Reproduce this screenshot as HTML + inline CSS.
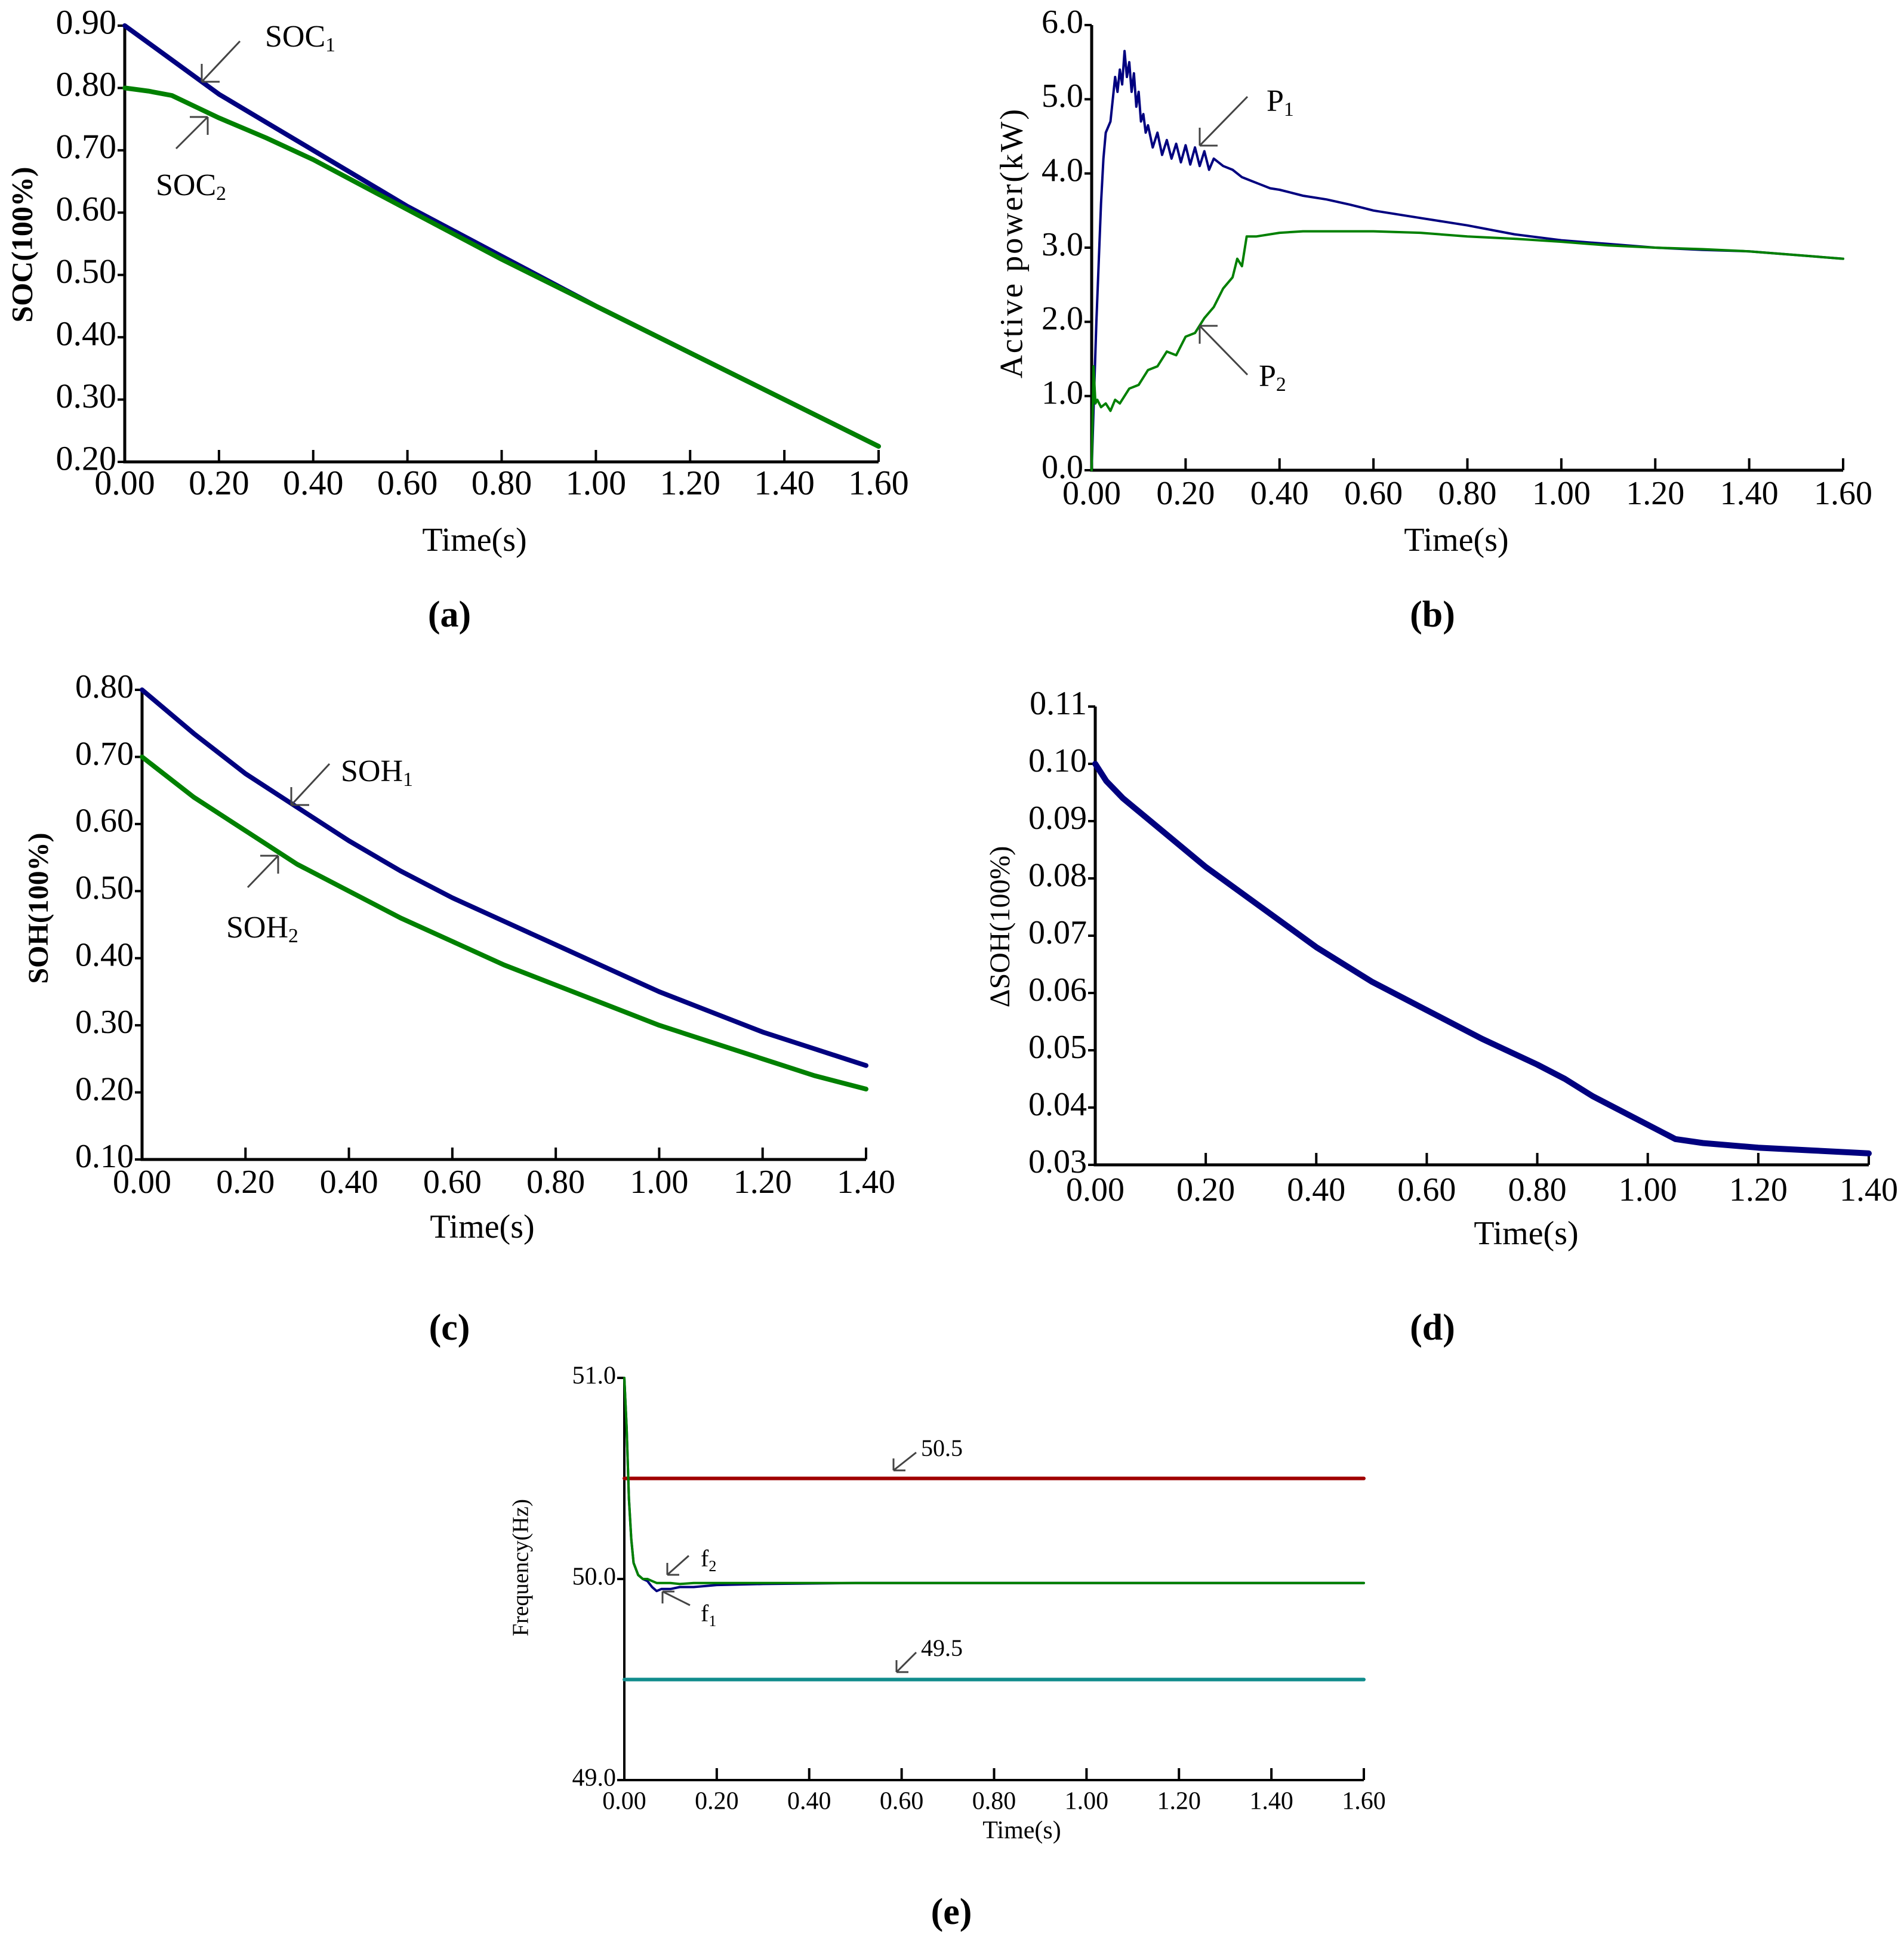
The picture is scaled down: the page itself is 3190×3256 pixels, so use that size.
<!DOCTYPE html>
<html><head><meta charset="utf-8"><style>
html,body{margin:0;padding:0;background:#fff;}
svg{display:block;}
text{font-family:"Liberation Serif",serif;fill:#000;}
</style></head><body>
<svg id="fig" width="3190" height="3256" viewBox="0 0 3190 3256" xmlns="http://www.w3.org/2000/svg"></svg>
<script>
// ---------- data ----------
const socT  = [0,0.1,0.2,0.3,0.4,0.5,0.6,0.8,1.0,1.2,1.4,1.6];
const soc1  = [0.90,0.845,0.79,0.745,0.70,0.655,0.61,0.53,0.45,0.375,0.30,0.225];
const soc2T = [0,0.05,0.1,0.15,0.2,0.3,0.4,0.5,0.6,0.8,1.0,1.2,1.4,1.6];
const soc2  = [0.80,0.795,0.788,0.77,0.752,0.72,0.685,0.645,0.605,0.525,0.45,0.375,0.30,0.225];

const p1T = [0,0.005,0.01,0.015,0.02,0.025,0.03,0.04,0.05,0.055,0.06,0.065,0.07,0.075,0.08,0.085,0.09,0.095,0.1,0.105,0.11,0.115,0.12,0.13,0.14,0.15,0.16,0.17,0.18,0.19,0.2,0.21,0.22,0.23,0.24,0.25,0.26,0.28,0.3,0.32,0.34,0.36,0.38,0.4,0.45,0.5,0.55,0.6,0.7,0.8,0.9,1.0,1.1,1.2,1.3,1.4,1.5,1.6];
const p1  = [0,1.0,2.0,2.8,3.6,4.2,4.55,4.7,5.3,5.1,5.4,5.2,5.65,5.3,5.5,5.1,5.35,4.9,5.1,4.7,4.8,4.55,4.65,4.35,4.55,4.25,4.45,4.2,4.4,4.15,4.38,4.12,4.35,4.1,4.3,4.05,4.2,4.1,4.05,3.95,3.9,3.85,3.8,3.78,3.7,3.65,3.58,3.5,3.4,3.3,3.18,3.1,3.05,3.0,2.97,2.95,2.9,2.85];
const p2T = [0,0.004,0.008,0.012,0.02,0.03,0.04,0.05,0.06,0.08,0.1,0.12,0.14,0.16,0.18,0.2,0.22,0.24,0.26,0.28,0.3,0.31,0.32,0.33,0.35,0.4,0.45,0.5,0.6,0.7,0.8,0.9,1.0,1.1,1.2,1.3,1.4,1.5,1.6];
const p2  = [0,1.4,0.9,0.95,0.85,0.9,0.8,0.95,0.9,1.1,1.15,1.35,1.4,1.6,1.55,1.8,1.85,2.05,2.2,2.45,2.6,2.85,2.75,3.15,3.15,3.2,3.22,3.22,3.22,3.2,3.15,3.12,3.08,3.03,3.0,2.98,2.95,2.9,2.85];

const sohT = [0,0.1,0.2,0.3,0.4,0.5,0.6,0.7,0.8,0.9,1.0,1.1,1.2,1.3,1.4];
const soh1 = [0.80,0.735,0.675,0.625,0.575,0.53,0.49,0.455,0.42,0.385,0.35,0.32,0.29,0.265,0.24];
const soh2 = [0.70,0.64,0.59,0.54,0.50,0.46,0.425,0.39,0.36,0.33,0.30,0.275,0.25,0.225,0.205];

const dT = [0,0.02,0.05,0.1,0.2,0.3,0.4,0.5,0.6,0.7,0.8,0.85,0.9,0.95,1.0,1.05,1.1,1.2,1.3,1.4];
const dS = [0.100,0.097,0.094,0.090,0.082,0.075,0.068,0.062,0.057,0.052,0.0475,0.045,0.042,0.0395,0.037,0.0345,0.0338,0.033,0.0325,0.032];

const fT  = [0,0.005,0.01,0.015,0.02,0.03,0.04,0.05,0.06,0.07,0.08,0.1,0.12,0.15,0.2,0.3,0.5,1.0,1.6];
const f1  = [51.0,50.75,50.4,50.2,50.08,50.02,50.0,49.99,49.96,49.94,49.95,49.95,49.96,49.96,49.97,49.975,49.98,49.98,49.98];
const f2  = [51.0,50.75,50.4,50.2,50.08,50.02,50.0,50.0,49.99,49.98,49.98,49.98,49.975,49.98,49.98,49.98,49.98,49.98,49.98];
const fLimT = [0,1.6];
const fHi = [50.5,50.5];
const fLo = [49.5,49.5];

const xTicks16 = ["0.00","0.20","0.40","0.60","0.80","1.00","1.20","1.40","1.60"];
const xTicks14 = ["0.00","0.20","0.40","0.60","0.80","1.00","1.20","1.40"];
const yTicksA = ["0.20","0.30","0.40","0.50","0.60","0.70","0.80","0.90"];
const yTicksB = ["0.0","1.0","2.0","3.0","4.0","5.0","6.0"];
const yTicksC = ["0.10","0.20","0.30","0.40","0.50","0.60","0.70","0.80"];
const yTicksD = ["0.03","0.04","0.05","0.06","0.07","0.08","0.09","0.10","0.11"];
const yTicksE = ["49.0","50.0","51.0"];

// ---------- helpers ----------
const NS="http://www.w3.org/2000/svg";
const svg=document.getElementById('fig');
function mk(tag,attrs,parent){const e=document.createElementNS(NS,tag);for(const k in attrs)e.setAttribute(k,attrs[k]);(parent||svg).appendChild(e);return e;}
function txt(s,x,y,size,parent,extra){const t=mk('text',Object.assign({x:x,y:y,'font-size':size},extra||{}),parent);t.textContent=s;return t;}

function panel(cfg){
  const g=mk('g',{});
  
  
  const X=v=>cfg.x0+(v-cfg.xmin)/(cfg.xmax-cfg.xmin)*(cfg.x1-cfg.x0);
  const Y=v=>cfg.y0+(v-cfg.ymin)/(cfg.ymax-cfg.ymin)*(cfg.y1-cfg.y0);
  const ax=mk('path',{d:`M${cfg.x0},${cfg.y1} L${cfg.x0},${cfg.y0} L${cfg.x1},${cfg.y0}`,fill:'none',stroke:'#000','stroke-width':cfg.aw||5},g);
  
  
  cfg.xt.forEach((s,i)=>{const v=parseFloat(s);const x=X(v);
    mk('line',{x1:x,y1:cfg.y0,x2:x,y2:cfg.y0-cfg.tl,stroke:'#000','stroke-width':4},g);
    const t=txt(s,x,cfg.xly,cfg.fs,g,{'text-anchor':'middle','dominant-baseline':'middle'});
    
    
  });
  cfg.yt.forEach(s=>{const v=parseFloat(s);const y=Y(v);
    mk('line',{x1:cfg.x0,y1:y,x2:cfg.x0-12,y2:y,stroke:'#000','stroke-width':4},g);
    const t=txt(s,cfg.x0-14,y,cfg.fs,g,{'text-anchor':'end','dominant-baseline':'middle'});
    
    
  });
  const xt=txt('Time(s)',cfg.xtx,cfg.xty,cfg.tfs,g,{'text-anchor':'middle','dominant-baseline':'middle'});
  
  
  const yt=txt(cfg.ytitle,0,0,cfg.yfs,g,{'text-anchor':'middle','dominant-baseline':'middle',transform:`translate(${cfg.ytx},${cfg.yty}) rotate(-90)`,'font-weight':cfg.ybold?'bold':'normal','letter-spacing':cfg.yls||0});
  
  
  cfg.series.forEach(s=>{
    const d=s.t.map((t,i)=>(i?'L':'M')+X(t).toFixed(1)+','+Y(s.v[i]).toFixed(1)).join(' ');
    const p=mk('path',{d:d,fill:'none',stroke:s.c,'stroke-width':s.w,'stroke-linejoin':'round','stroke-linecap':'round'},g);
    
    
  });
  const lb=txt(cfg.label[0],cfg.label[1],cfg.label[2],62,g,{'text-anchor':'middle','dominant-baseline':'middle','font-weight':'bold'});
  
  
  (cfg.ann||[]).forEach(a=>{
    const ar=mk('g',{},g);
    
    
    mk('line',{x1:a[0],y1:a[1],x2:a[2],y2:a[3],stroke:'#444','stroke-width':3},ar);
    const dx=a[0]-a[2],dy=a[1]-a[3];
    const h=a[7]>45?30:20;
    mk('line',{x1:a[2],y1:a[3],x2:a[2]+(dx>0?h:-h),y2:a[3],stroke:'#444','stroke-width':3},ar);
    mk('line',{x1:a[2],y1:a[3],x2:a[2],y2:a[3]+(dy>0?h:-h),stroke:'#444','stroke-width':3},ar);
    const t=txt(a[4],a[5],a[6],a[7],g,{});
    if(a[8]){const ts=mk('tspan',{'font-size':a[7]*0.65,dy:8},t);ts.textContent=a[8];}
    
    
  });
}
const BLUE='#00007f',GREEN='#008000';
panel({name:'panel-a-soc',x0:209,x1:1472,y0:774,y1:43,xmin:0,xmax:1.6,ymin:0.2,ymax:0.9,tl:20,fs:58,xly:815,tfs:56,xtx:795,xty:910,
  xt:xTicks16,yt:yTicksA,ytitle:'SOC(100%)',ytx:42,yty:410,yfs:50,ybold:true,label:['(a)',753,1036],
  series:[{n:'soc1-line',t:socT,v:soc1,c:BLUE,w:8},{n:'soc2-line',t:soc2T,v:soc2,c:GREEN,w:8}],
  ann:[[402,69,338,137,'SOC',444,78,52,'1'],[295,249,348,196,'SOC',261,327,52,'2']]});
panel({name:'panel-b-power',x0:1829,x1:3088,y0:788,y1:42,xmin:0,xmax:1.6,ymin:0,ymax:6,tl:20,fs:56,xly:832,tfs:56,xtx:2440,xty:910,
  xt:xTicks16,yt:yTicksB,ytitle:'Active power(kW)',ytx:1700,yty:407,yfs:54,yls:3,label:['(b)',2400,1036],
  series:[{n:'p1-line',t:p1T,v:p1,c:BLUE,w:4},{n:'p2-line',t:p2T,v:p2,c:GREEN,w:4}],
  ann:[[2090,162,2010,244,'P',2122,186,52,'1'],[2090,628,2010,546,'P',2109,647,52,'2']]});
panel({name:'panel-c-soh',x0:238,x1:1451,y0:1943,y1:1156,xmin:0,xmax:1.4,ymin:0.1,ymax:0.8,tl:20,fs:56,xly:1986,tfs:56,xtx:808,xty:2061,
  xt:xTicks14,yt:yTicksC,ytitle:'SOH(100%)',ytx:69,yty:1522,yfs:48,ybold:true,label:['(c)',753,2231],
  series:[{n:'soh1-line',t:sohT,v:soh1,c:BLUE,w:8},{n:'soh2-line',t:sohT,v:soh2,c:GREEN,w:8}],
  ann:[[552,1280,488,1349,'SOH',571,1309,52,'1'],[415,1487,466,1434,'SOH',379,1571,52,'2']]});
panel({name:'panel-d-delta-soh',x0:1835,x1:3131,y0:1952,y1:1184,xmin:0,xmax:1.4,ymin:0.03,ymax:0.11,tl:20,fs:56,xly:1999,tfs:56,xtx:2557,xty:2072,
  xt:xTicks14,yt:yTicksD,ytitle:'ΔSOH(100%)',ytx:1680,yty:1553,yfs:48,label:['(d)',2400,2231],
  series:[{n:'delta-soh-line',t:dT,v:dS,c:BLUE,w:10}]});
panel({name:'panel-e-frequency',x0:1046,x1:2285,y0:2983,y1:2309,xmin:0,xmax:1.6,ymin:49,ymax:51,tl:20,fs:42,xly:3022,tfs:42,xtx:1712,xty:3071,aw:4,
  xt:xTicks16,yt:yTicksE,ytitle:'Frequency(Hz)',ytx:876,yty:2627,yfs:38,label:['(e)',1594,3210],
  series:[{n:'upper-limit-line',t:fLimT,v:fHi,c:'#a00000',w:6},{n:'lower-limit-line',t:fLimT,v:fLo,c:'#108c8c',w:6},
          {n:'f1-line',t:fT,v:f1,c:BLUE,w:4},{n:'f2-line',t:fT,v:f2,c:GREEN,w:4}],
  ann:[[1535,2434,1497,2464,'50.5',1543,2440,40,''],[1535,2769,1502,2802,'49.5',1543,2775,40,''],
       [1154,2607,1118,2639,'f',1174,2625,40,'2'],[1156,2690,1110,2667,'f',1174,2717,40,'1']]});
</script>
</body></html>
